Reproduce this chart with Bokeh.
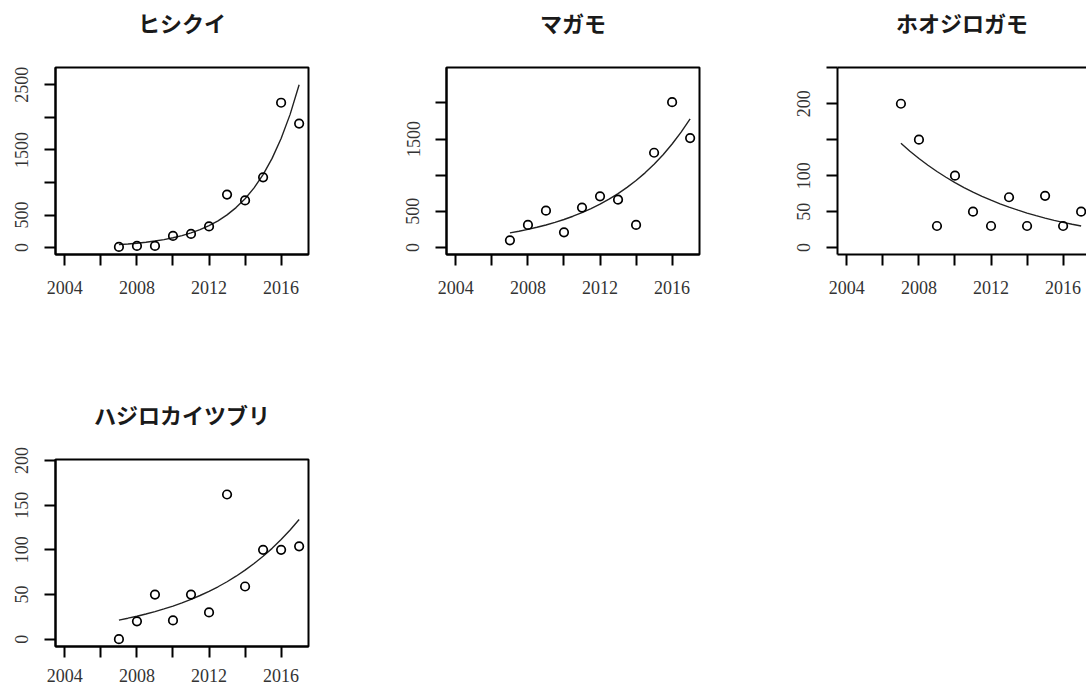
from bokeh.plotting import figure
from bokeh.models import Range1d, FixedTicker, LinearAxis
from bokeh.layouts import column, row
from bokeh.embed import file_html
from bokeh.resources import INLINE

# ---------------- data ----------------
years = [2007, 2008, 2009, 2010, 2011, 2012, 2013, 2014, 2015, 2016, 2017]
fit_years = [2007, 2007.5, 2008, 2008.5, 2009, 2009.5, 2010, 2010.5, 2011, 2011.5,
             2012, 2012.5, 2013, 2013.5, 2014, 2014.5, 2015, 2015.5, 2016, 2016.5, 2017]

titles = ["ヒシクイ", "マガモ", "ホオジロガモ", "ハジロカイツブリ"]

hishikui = [10, 25, 25, 180, 210, 325, 815, 725, 1080, 2225, 1905]
hishikui_fit = [45, 55, 67, 82, 101, 123, 151, 184, 225, 275, 336, 411, 503, 614,
                751, 917, 1121, 1370, 1675, 2046, 2500]

magamo = [100, 313, 510, 211, 552, 708, 662, 313, 1310, 2009, 1513]
magamo_fit = [202, 225, 251, 280, 312, 348, 388, 433, 482, 538, 599, 668, 745, 831,
              926, 1032, 1151, 1283, 1431, 1595, 1779]

hoojirogamo = [200, 150, 30, 100, 50, 30, 70, 30, 72, 30, 50]
hoojirogamo_fit = [145, 134.0, 123.9, 114.5, 105.8, 97.8, 90.3, 83.5, 77.1, 71.3, 65.9,
                   60.9, 56.3, 52.0, 48.0, 44.4, 41.0, 37.9, 35.0, 32.4, 30.0]

hajirokaitsuburi = [0, 20, 50, 21, 50, 30, 162, 59, 100, 100, 104]
hajirokaitsuburi_fit = [21.4, 23.5, 25.7, 28.2, 30.9, 33.9, 37.1, 40.7, 44.6, 48.9, 53.5,
                        58.7, 64.3, 70.5, 77.3, 84.7, 92.8, 101.7, 111.5, 122.2, 134]

x_labeled_ticks = [2004, 2008, 2012, 2016]
x_plain_ticks = [2006, 2010, 2014]

y_labeled_ticks = [[0, 500, 1500, 2500], [0, 500, 1500], [0, 50, 100, 200], [0, 50, 100, 150, 200]]
y_plain_ticks = [[1000, 2000], [1000, 2000], [150, 250], []]

# ---------------- styling ----------------
LABEL_FONT = "Liberation Serif"
TITLE_FONT = "Noto Sans CJK JP"
FRAME_W = 253
FRAME_H = 187
X_START, X_END = 2003.48, 2017.52


def style_axis(ax, ticker):
    ax.ticker = ticker
    ax.axis_line_color = "black"
    ax.axis_line_width = 2
    ax.major_tick_line_color = "black"
    ax.major_tick_line_width = 2
    ax.minor_tick_line_color = "black"
    ax.minor_tick_line_width = 2
    ax.major_tick_in = 0
    ax.major_tick_out = 11
    ax.minor_tick_in = 0
    ax.minor_tick_out = 11
    ax.major_label_text_font = LABEL_FONT
    ax.major_label_text_font_size = "18px"
    ax.major_label_text_color = "#333333"


def panel(idx, vals, fit, y_range, width, height, bl, br, bt, bb, x_end, x_standoff,
          outline=True):
    p = figure(width=width, height=height, output_backend="svg", toolbar_location=None,
               x_range=Range1d(X_START, x_end), y_range=Range1d(*y_range),
               min_border_left=bl, min_border_right=br, min_border_top=bt, min_border_bottom=bb,
               x_axis_type=None, y_axis_type=None)
    p.grid.visible = False
    p.background_fill_color = "white"
    p.border_fill_color = "white"
    if outline:
        p.outline_line_color = "black"
        p.outline_line_width = 2
    else:
        p.outline_line_color = None

    xa = LinearAxis()
    style_axis(xa, FixedTicker(ticks=x_labeled_ticks, minor_ticks=x_plain_ticks))
    xa.major_label_standoff = x_standoff
    p.add_layout(xa, "below")

    ya = LinearAxis()
    style_axis(ya, FixedTicker(ticks=y_labeled_ticks[idx], minor_ticks=y_plain_ticks[idx]))
    ya.major_label_orientation = "vertical"
    ya.major_label_standoff = 16
    p.add_layout(ya, "left")

    # top edge: carries the panel title as its label
    top = LinearAxis(axis_label=titles[idx])
    top.ticker = FixedTicker(ticks=[])
    top.axis_line_color = None if outline else "black"
    top.axis_line_width = 2
    top.major_tick_line_color = None
    top.minor_tick_line_color = None
    top.major_tick_out = 0
    top.minor_tick_out = 0
    top.major_tick_in = 0
    top.major_label_standoff = 0
    top.major_label_text_font_size = "0px"
    top.axis_label_standoff = 30
    top.axis_label_text_font = TITLE_FONT
    top.axis_label_text_font_size = "22px"
    top.axis_label_text_font_style = "bold"
    top.axis_label_text_color = "#1a1a1a"
    p.add_layout(top, "above")

    p.line(fit_years, fit, line_color="#222222", line_width=1.4)
    p.scatter(years, vals, size=8.5, marker="circle", fill_color=None,
              line_color="black", line_width=1.7)
    return p


p1 = panel(0, hishikui, hishikui_fit, (-106, 2766), 391, 392, 55, 83, 67, 138, X_END, 15)
p2 = panel(1, magamo, magamo_fit, (-96, 2488), 391, 392, 55, 83, 67, 138, X_END, 15)
p3_xend = X_START + 249 * (X_END - X_START) / FRAME_W
p3 = panel(2, hoojirogamo, hoojirogamo_fit, (-9.6, 250.4), 304, 392, 55, 0, 67, 138,
           p3_xend, 15, outline=False)
p4 = panel(3, hajirokaitsuburi, hajirokaitsuburi_fit, (-8.2, 201.2), 391, 297, 55, 83, 67, 43,
           X_END, 11)

layout = column(row(p1, p2, p3, spacing=0), row(p4, spacing=0), spacing=0)

open("out.html", "w").write(file_html(layout, INLINE))
